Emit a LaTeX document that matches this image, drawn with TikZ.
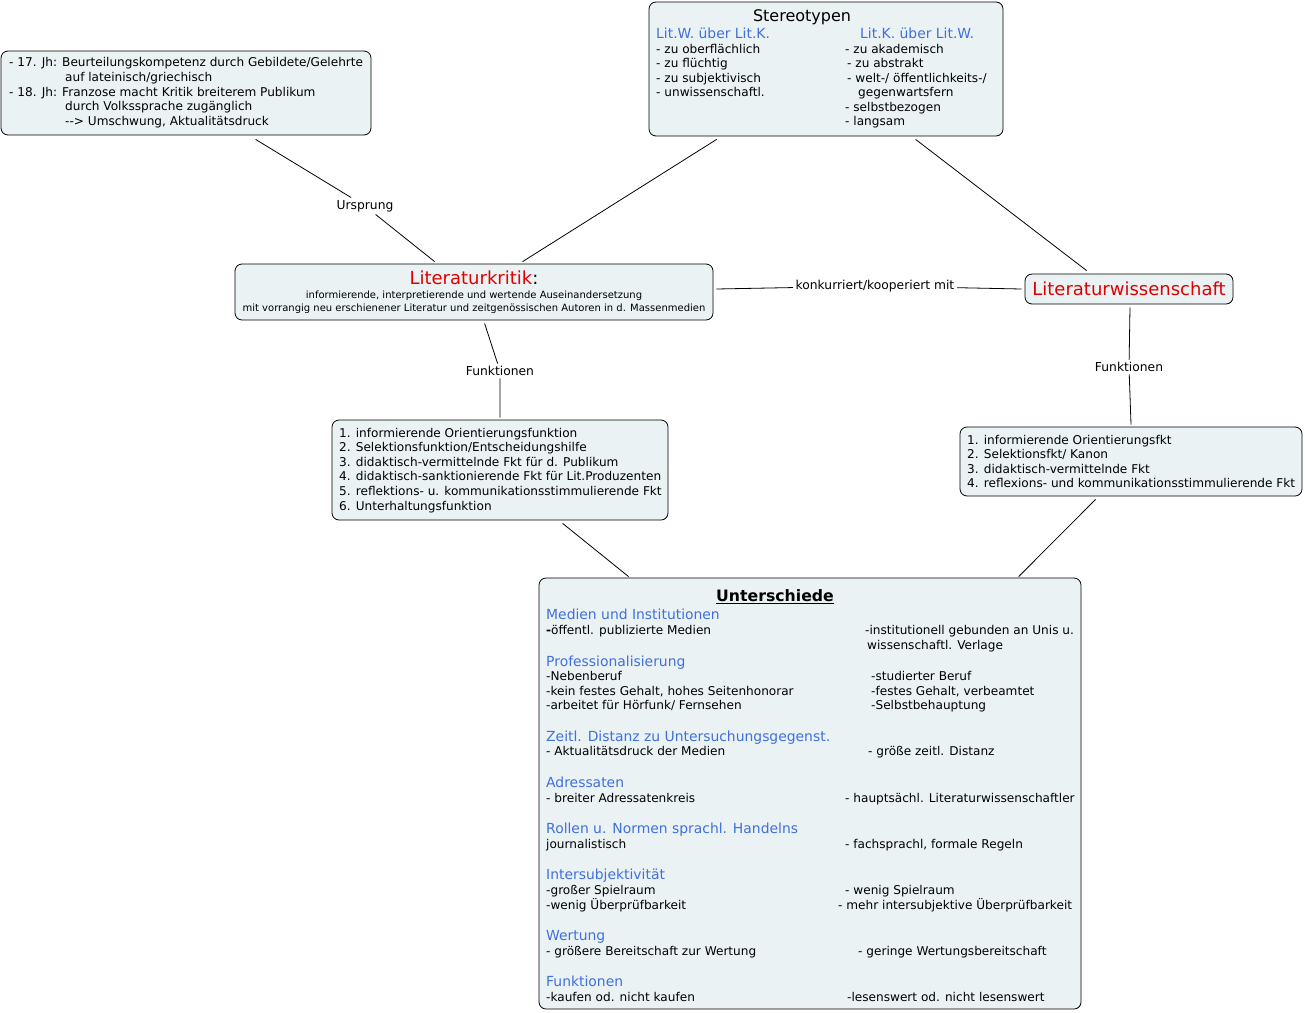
\documentclass[tikz,border=0pt]{standalone}
\usepackage{fontspec}
\setmainfont{DejaVu Sans}
\usetikzlibrary{calc}
\definecolor{boxfill}{HTML}{EBF2F4}
\definecolor{headblue}{HTML}{4070DD}
\definecolor{hred}{HTML}{E00000}
\tikzset{
  box/.style={draw=black, line width=0.8pt, rounded corners=7pt, fill=boxfill, inner sep=0pt},
  txt/.style={anchor=base west, inner sep=0pt, font=\fontsize{12.1}{14}\selectfont},
  hd/.style={anchor=base west, inner sep=0pt, text=headblue, font=\fontsize{13.9}{16}\selectfont},
  sm/.style={anchor=base, inner sep=0pt, font=\fontsize{10}{12}\selectfont},
  lab/.style={inner sep=2.5pt, fill=white, font=\fontsize{12.3}{14}\selectfont},
  con/.style={draw=black, line width=0.8pt},
}
\begin{document}
\begin{tikzpicture}[x=1pt,y=-1pt]
\useasboundingbox (0,0) rectangle (1305,1012);

% boxes
\node[box, minimum width=370pt, minimum height=84pt] (tl) at (186,93) {};
\node[box, minimum width=354pt, minimum height=134pt] (st) at (826,69) {};
\node[box, minimum width=478pt, minimum height=56pt] (lk) at (474,292) {};
\node[box, minimum width=208pt, minimum height=30pt] (lw) at (1129,289) {};
\node[box, minimum width=336pt, minimum height=100pt] (lkf) at (500,470) {};
\node[box, minimum width=342pt, minimum height=69pt] (lwf) at (1131,461.5) {};
\node[box, minimum width=542pt, minimum height=431pt] (un) at (810,793.5) {};

% top-left text
\node[txt] (t1) at (9,66) {- 17. Jh: Beurteilungskompetenz durch Gebildete/Gelehrte};
\node[txt] (t2) at (65,81) {auf lateinisch/griechisch};
\node[txt] (t3) at (9,96) {- 18. Jh: Franzose macht Kritik breiterem Publikum};
\node[txt] (t4) at (65,110) {durch Volkssprache zugänglich};
\node[txt] (t5) at (65,125) {-{}-{}> Umschwung, Aktualitätsdruck};

% Stereotypen
\node[anchor=base, inner sep=0pt, font=\fontsize{16}{18}\selectfont] (sth) at (802,21) {Stereotypen};
\node[hd] (s1) at (656,38.5) {Lit.W. über Lit.K.};
\node[hd] (s2) at (860,38.5) {Lit.K. über Lit.W.};
\node[txt] (s3) at (656,53) {- zu oberflächlich};
\node[txt] (s4) at (656,67) {- zu flüchtig};
\node[txt] (s5) at (656,82) {- zu subjektivisch};
\node[txt] (s6) at (656,96) {- unwissenschaftl.};
\node[txt] (s7) at (845,53) {- zu akademisch};
\node[txt] (s8) at (847,67) {- zu abstrakt};
\node[txt] (s9) at (847,82) {- welt-/ öffentlichkeits-/};
\node[txt] (s10) at (858,96) {gegenwartsfern};
\node[txt] (s11) at (845,111) {- selbstbezogen};
\node[txt] (s12) at (845,125) {- langsam};

% Literaturkritik
\node[anchor=base, inner sep=0pt, font=\fontsize{18}{20}\selectfont] (lkh) at (474,284.5) {\textcolor{hred}{Literaturkritik}:};
\node[sm] (lk1) at (474,298.5) {informierende, interpretierende und wertende Auseinandersetzung};
\node[sm] (lk2) at (474,311) {mit vorrangig neu erschienener Literatur und zeitgenössischen Autoren in d. Massenmedien};

% Literaturwissenschaft
\node[anchor=base, inner sep=0pt, text=hred, font=\fontsize{18}{20}\selectfont] (lwh) at (1129,295.5) {Literaturwissenschaft};

% LK functions
\node[txt] (f1) at (339,437) {1. informierende Orientierungsfunktion};
\node[txt] (f2) at (339,451) {2. Selektionsfunktion/Entscheidungshilfe};
\node[txt] (f3) at (339,466) {3. didaktisch-vermittelnde Fkt für d. Publikum};
\node[txt] (f4) at (339,480) {4. didaktisch-sanktionierende Fkt für Lit.Produzenten};
\node[txt] (f5) at (339,495) {5. reflektions- u. kommunikationsstimmulierende Fkt};
\node[txt] (f6) at (339,510) {6. Unterhaltungsfunktion};

% LW functions
\node[txt] (g1) at (967,444) {1. informierende Orientierungsfkt};
\node[txt] (g2) at (967,458) {2. Selektionsfkt/ Kanon};
\node[txt] (g3) at (967,473) {3. didaktisch-vermittelnde Fkt};
\node[txt] (g4) at (967,487) {4. reflexions- und kommunikationsstimmulierende Fkt};

% Unterschiede
\node[anchor=base, inner sep=0pt, font=\bfseries\fontsize{15.7}{18}\selectfont] (uh) at (775,601.5) {\underline{Unterschiede}};
\node[hd] (u1) at (546,619.5) {Medien und Institutionen};
\node[txt] (u2) at (546,634) {\textbf{-}öffentl. publizierte Medien};
\node[txt] (u3) at (865,634) {-institutionell gebunden an Unis u.};
\node[txt] (u4) at (867,649) {wissenschaftl. Verlage};
\node[hd] (u5) at (546,666) {Professionalisierung};
\node[txt] (u6) at (546,680) {-Nebenberuf};
\node[txt] (u7) at (546,695) {-kein festes Gehalt, hohes Seitenhonorar};
\node[txt] (u8) at (546,709) {-arbeitet für Hörfunk/ Fernsehen};
\node[txt] (u9) at (871,680) {-studierter Beruf};
\node[txt] (u10) at (871,695) {-festes Gehalt, verbeamtet};
\node[txt] (u11) at (871,709) {-Selbstbehauptung};
\node[hd] (u12) at (546,741) {Zeitl. Distanz zu Untersuchungsgegenst.};
\node[txt] (u13) at (546,755) {- Aktualitätsdruck der Medien};
\node[txt] (u14) at (868,755) {- größe zeitl. Distanz};
\node[hd] (u15) at (546,787) {Adressaten};
\node[txt] (u16) at (546,802) {- breiter Adressatenkreis};
\node[txt] (u17) at (845,802) {- hauptsächl. Literaturwissenschaftler};
\node[hd] (u18) at (546,833) {Rollen u. Normen sprachl. Handelns};
\node[txt] (u19) at (546,848) {journalistisch};
\node[txt] (u20) at (845,848) {- fachsprachl, formale Regeln};
\node[hd] (u21) at (546,879) {Intersubjektivität};
\node[txt] (u22) at (546,894) {-großer Spielraum};
\node[txt] (u23) at (546,909) {-wenig Überprüfbarkeit};
\node[txt] (u24) at (845,894) {- wenig Spielraum};
\node[txt] (u25) at (838,909) {- mehr intersubjektive Überprüfbarkeit};
\node[hd] (u26) at (546,940) {Wertung};
\node[txt] (u27) at (546,955) {- größere Bereitschaft zur Wertung};
\node[txt] (u28) at (858,955) {- geringe Wertungsbereitschaft};
\node[hd] (u29) at (546,986) {Funktionen};
\node[txt] (u30) at (546,1001) {-kaufen od. nicht kaufen};
\node[txt] (u31) at (847,1001) {-lesenswert od. nicht lesenswert};

% connector labels
\node[lab] (l1) at (365,206) {Ursprung};
\node[lab] (l2) at (875,286) {konkurriert/kooperiert mit};
\node[lab] (l3) at (500,371) {Funktionen};
\node[lab] (l4) at (1129,367) {Funktionen};

% connectors
\draw[con] ([xshift=255pt,yshift=-4pt]tl.south west) -- (l1) -- ([xshift=200pt,yshift=2pt]lk.north west);
\draw[con] ([xshift=68pt,yshift=-3pt]st.south west) -- ([xshift=288pt,yshift=2pt]lk.north west);
\draw[con] ([xshift=267pt,yshift=-3pt]st.south west) -- ([xshift=62pt,yshift=3pt]lw.north west);
\draw[con] ([xshift=3pt,yshift=3pt]lk.east) -- (l2) -- ([xshift=-3pt]lw.west);
\draw[con] ([xshift=250pt,yshift=-3pt]lk.south west) -- (l3) -- ([yshift=2pt]lkf.north);
\draw[con] ([xshift=1pt,yshift=-3pt]lw.south) -- (l4) -- ([yshift=2pt]lwf.north);
\draw[con] ([xshift=231pt,yshift=-3pt]lkf.south west) -- ([xshift=90pt,yshift=1pt]un.north west);
\draw[con] ([xshift=136pt,yshift=-3pt]lwf.south west) -- ([xshift=480pt,yshift=1pt]un.north west);
\end{tikzpicture}
\end{document}
